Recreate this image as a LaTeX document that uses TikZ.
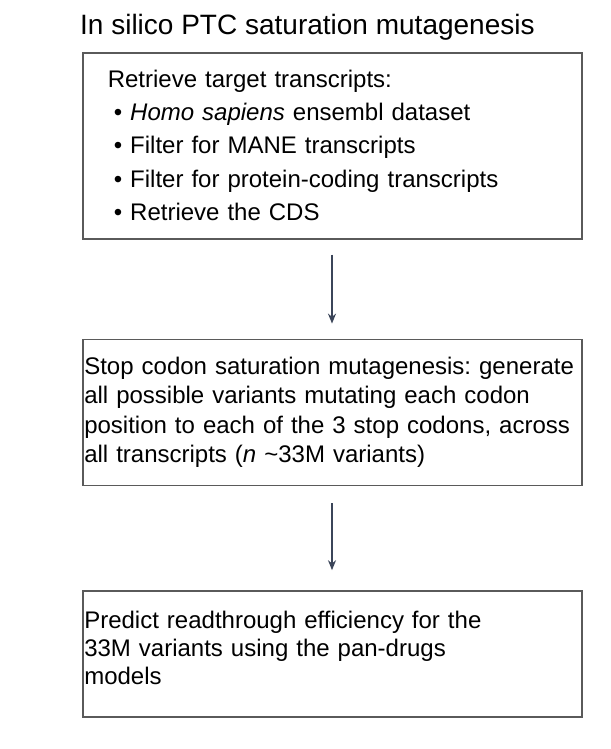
\documentclass[tikz,border=0pt]{standalone}
\usepackage{fontspec}
\setmainfont{Liberation Sans}
\usetikzlibrary{positioning,arrows.meta}

\definecolor{boxline}{HTML}{5A5A5A}
\definecolor{arrowline}{HTML}{3B4559}

\tikzset{
  stage/.style={draw=boxline, line width=1.6pt, align=left, anchor=north west,
                inner xsep=1.5pt, text width=496pt, font=\fontsize{24}{29.5}\selectfont},
  flow/.style={-{Stealth[length=10pt,width=8pt]}, draw=arrowline, line width=1.5pt}
}

\begin{document}
\frenchspacing
\begin{tikzpicture}[x=1pt,y=1pt]
      \useasboundingbox (0,0) rectangle (610,-749);
      \node[anchor=base west, inner sep=0pt, font=\fontsize{28}{32}\selectfont]
                                   (title) at (80,-35)  {In silico PTC saturation mutagenesis};
      \node[stage, minimum height=186pt, inner xsep=25pt, text width=449pt,
            font=\fontsize{24}{33.5}\selectfont]
                                   (retrieve) at (82,-52)
            {Retrieve target transcripts:\\[-1pt]
             \hspace{6pt}\textbullet\hspace{8pt}\textit{Homo sapiens} ensembl dataset\\
             \hspace{6pt}\textbullet\hspace{8pt}Filter for MANE transcripts\\
             \hspace{6pt}\textbullet\hspace{8pt}Filter for protein-coding transcripts\\
             \hspace{6pt}\textbullet\hspace{8pt}Retrieve the CDS};
      \node[stage, minimum height=146pt] (mutate)  [below=99pt of retrieve.south west, anchor=north west]
            {Stop codon saturation mutagenesis: generate\\
             all possible variants mutating each codon\\
             position to each of the 3 stop codons, across\\
             all transcripts (\textit{n} \textasciitilde33M variants)};
      \node[stage, minimum height=126pt, font=\fontsize{24}{28}\selectfont]
                                   (predict) [below=104pt of mutate.south west, anchor=north west]
            {Predict readthrough efficiency for the\\
             33M variants using the pan-drugs\\
             models\\[-16pt]\mbox{}};
        \coordinate (a1s) at ([yshift=-15pt]retrieve.south -| 332,0);
        \coordinate (a1e) at ([yshift=15pt]mutate.north -| 332,0);
        \coordinate (a2s) at ([yshift=-17pt]mutate.south -| 332,0);
        \coordinate (a2e) at ([yshift=20pt]predict.north -| 332,0);
        \draw[flow] (a1s) -- (a1e);
        \draw[flow] (a2s) -- (a2e);
    \end{tikzpicture}
\end{document}
